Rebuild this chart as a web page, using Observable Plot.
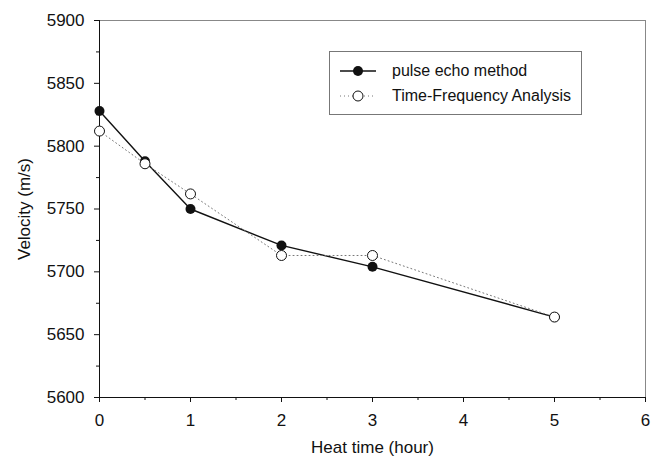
<!DOCTYPE html>
<html>
<head>
<meta charset="utf-8">
<script src="https://cdn.jsdelivr.net/npm/d3@7"></script>
<script src="https://cdn.jsdelivr.net/npm/@observablehq/plot@0.6"></script>
<style>
  body { margin: 0; background: #fff; }
  #chart { position: relative; width: 661px; height: 467px; font-family: "Liberation Sans", Arial, sans-serif; }
  .legend {
    position: absolute; left: 329px; top: 51px;
    border: 1px solid #777; background: #fff;
    padding: 6px 10px 6px 8px; font-size: 16px; color: #111;
  }
  .legend .row { display: flex; align-items: center; height: 25px; }
  .legend svg { margin-right: 14px; }
</style>
</head>
<body>
<div id="chart"></div>
<script>
// Ultrasonic velocity measured after each heat-treatment interval
const hours = [0, 0.5, 1, 2, 3, 5];
const pulseEcho = [5828, 5788, 5750, 5721, 5704, 5664];
const timeFrequency = [5812, 5786, 5762, 5713, 5713, 5664];
const seriesNames = ["pulse echo method", "Time-Frequency Analysis"];

const xTicks = [0, 1, 2, 3, 4, 5, 6];
const xMinorTicks = [0.5, 1.5, 2.5, 3.5, 4.5, 5.5];
const yTicks = [5600, 5650, 5700, 5750, 5800, 5850, 5900];
const yMinorTicks = [5625, 5675, 5725, 5775, 5825, 5875];

const pulseRows = hours.map((h, i) => ({hour: h, velocity: pulseEcho[i]}));
const tfRows = hours.map((h, i) => ({hour: h, velocity: timeFrequency[i]}));

const ink = "#111";

const chart = Plot.plot({
  width: 661,
  height: 467,
  marginLeft: 99,
  marginRight: 16,
  marginTop: 20,
  marginBottom: 70,
  style: {fontFamily: "'Liberation Sans', Arial, sans-serif", fontSize: "17px", color: ink, background: "#fff"},
  x: {domain: [0, 6]},
  y: {domain: [5600, 5900]},
  marks: [
    Plot.frame({stroke: "#888"}),
    Plot.axisX(xMinorTicks, {tickSize: 3, tickFormat: () => "", label: null}),
    Plot.axisX(xTicks, {tickSize: 5, tickPadding: 11, tickFormat: d3.format("d"), fontSize: 17,
      label: "Heat time (hour)", labelAnchor: "center", labelOffset: 55, labelArrow: "none"}),
    Plot.axisY(yMinorTicks, {tickSize: 3, tickFormat: () => "", label: null}),
    Plot.axisY(yTicks, {tickSize: 5, tickPadding: 10, tickFormat: d3.format("d"), fontSize: 17,
      label: "Velocity (m/s)", labelAnchor: "center", labelOffset: 82, labelArrow: "none"}),
    Plot.ruleX([0], {stroke: ink}),
    Plot.ruleY([5600], {stroke: ink}),
    Plot.line(pulseRows, {x: "hour", y: "velocity", stroke: ink, strokeWidth: 1.4}),
    Plot.dot(pulseRows, {x: "hour", y: "velocity", r: 5, fill: ink}),
    Plot.line(tfRows, {x: "hour", y: "velocity", stroke: "#777", strokeWidth: 1, strokeDasharray: "1 3"}),
    Plot.dot(tfRows, {x: "hour", y: "velocity", r: 5, fill: "#fff", stroke: ink, strokeWidth: 1})
  ]
});

const root = document.getElementById("chart");
root.appendChild(chart);

// Legend box inside the plot area
const legend = document.createElement("div");
legend.className = "legend";
const symbols = [
  `<svg width="40" height="14"><line x1="2" x2="38" y1="7" y2="7" stroke="${ink}" stroke-width="1.4"/><circle cx="20" cy="7" r="5" fill="${ink}"/></svg>`,
  `<svg width="40" height="14"><line x1="2" x2="38" y1="7" y2="7" stroke="#777" stroke-width="1" stroke-dasharray="1 3"/><circle cx="20" cy="7" r="5" fill="#fff" stroke="${ink}"/></svg>`
];
legend.innerHTML = seriesNames.map((name, i) =>
  `<div class="row">${symbols[i]}<span>${name}</span></div>`).join("");
root.appendChild(legend);
</script>
</body>
</html>
